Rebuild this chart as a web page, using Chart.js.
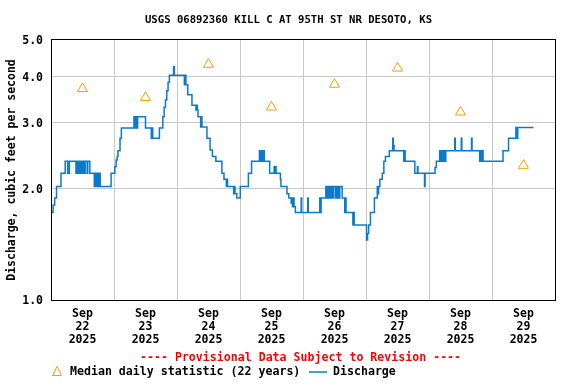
<!DOCTYPE html>
<html>
<head>
<meta charset="utf-8">
<script src="https://cdn.jsdelivr.net/npm/chart.js@4"></script>
<style>
  html, body { margin: 0; padding: 0; background: #fff; }
  canvas { display: block; }
</style>
</head>
<body>
<canvas id="chart" width="576" height="384"></canvas>
<script>
// hours since Sep 22 00:00 where the 15-min discharge steps to a new value
const flowHours = [
  0.2, 0.8, 1.4, 2.1, 3.8, 5.4, 6.4, 7.0, 9.5, 9.75, 10.0, 10.25, 10.5, 10.75, 11.25, 11.5,
  12.0, 12.25, 12.75, 13.0, 13.75, 14.0, 14.8, 16.5, 16.75, 17.25, 17.5, 18.0, 18.25, 18.75,
  22.9, 24.3, 24.8, 25.2, 25.5, 26.3, 26.8, 31.6, 32.0, 32.25, 32.75, 33.0, 36.0, 38.2, 38.5,
  38.75, 41.3, 42.6, 43.1, 43.6, 44.1, 44.6, 45.1, 46.7, 47.0, 50.8, 51.0, 51.4, 52.1, 53.7,
  55.2, 55.5, 55.75, 56.0, 57.0, 57.25, 57.5, 59.4, 60.6, 61.5, 62.8, 65.1, 65.9, 66.8, 67.0,
  67.25, 69.6, 69.9, 70.1, 70.8, 72.1, 75.2, 76.4, 79.4, 79.7, 80.2, 80.5, 81.0, 81.25, 83.3,
  85.0, 85.25, 85.5, 85.75, 87.4, 87.6, 89.9, 90.6, 91.5, 91.75, 92.0, 92.25, 92.6, 93.1,
  95.3, 95.5, 97.8, 98.0, 102.4, 102.6, 102.9, 104.7, 105.0, 105.25, 105.75, 106.0, 106.5,
  106.75, 107.25, 107.5, 108.25, 108.5, 109.0, 109.25, 109.75, 110.0, 110.9, 111.9, 112.1,
  112.4, 115.0, 115.2, 115.5, 120.2, 120.6, 121.0, 121.7, 123.2, 124.3, 124.5, 124.8, 125.3,
  126.2, 126.8, 127.4, 128.9, 130.2, 130.4, 130.7, 134.4, 134.6, 134.9, 138.6, 139.6, 139.8,
  142.3, 142.5, 146.3, 146.8, 148.1, 148.5, 148.8, 149.2, 149.6, 150.0, 150.4, 153.8, 154.0,
  156.3, 156.5, 160.2, 160.4, 163.3, 163.6, 163.9, 164.2, 164.6, 172.2, 174.3, 177.1, 177.4,
  177.8, 183.8
];
const flowCfs = [
  1.72, 1.80, 1.88, 2.02, 2.19, 2.36, 2.19, 2.36, 2.19, 2.36, 2.19, 2.36, 2.19, 2.36, 2.19, 2.36,
  2.19, 2.36, 2.19, 2.36, 2.19, 2.36, 2.19, 2.02, 2.19, 2.02, 2.19, 2.02, 2.19, 2.02,
  2.19, 2.28, 2.38, 2.43, 2.52, 2.72, 2.90, 3.11, 2.90, 3.11, 2.90, 3.11, 2.90, 2.72, 2.90,
  2.72, 2.90, 3.11, 3.30, 3.45, 3.65, 3.85, 4.02, 4.24, 4.02, 3.79, 4.02, 3.79, 3.56, 3.34,
  3.24, 3.34, 3.24, 3.11, 2.92, 3.11, 2.92, 2.72, 2.53, 2.43, 2.36, 2.19, 2.11, 2.02, 2.11,
  2.02, 1.93, 2.02, 1.93, 1.88, 2.02, 2.19, 2.36, 2.52, 2.36, 2.52, 2.36, 2.52, 2.36, 2.19,
  2.28, 2.19, 2.28, 2.19, 2.11, 2.02, 1.93, 1.88, 1.82, 1.88, 1.78, 1.88, 1.78, 1.72,
  1.88, 1.72, 1.88, 1.72, 1.88, 1.72, 1.88, 2.02, 1.88, 2.02, 1.88, 2.02, 1.88,
  2.02, 1.88, 2.02, 1.88, 2.02, 1.88, 2.02, 1.88, 2.02, 1.88, 1.72, 1.88,
  1.72, 1.59, 1.72, 1.59, 1.45, 1.51, 1.59, 1.72, 1.88, 2.02, 1.93, 2.02, 2.11,
  2.19, 2.36, 2.43, 2.52, 2.72, 2.60, 2.52, 2.36, 2.52, 2.36, 2.19, 2.28, 2.19,
  2.02, 2.19, 2.27, 2.36, 2.52, 2.36, 2.52, 2.36, 2.52, 2.36, 2.52, 2.72, 2.52,
  2.72, 2.52, 2.72, 2.52, 2.36, 2.52, 2.36, 2.52, 2.36, 2.52, 2.72, 2.91, 2.72,
  2.91, 2.91
];

// median daily statistic, plotted at noon of each day
const medianHours = [12, 36, 60, 84, 108, 132, 156, 180];
const medianCfs = [3.7, 3.5, 4.3, 3.3, 3.8, 4.2, 3.2, 2.3];

const dayLabels = ["22", "23", "24", "25", "26", "27", "28", "29"];
const yTicks = [1, 2, 3, 4, 5];

const MONO = "'DejaVu Sans Mono', 'Liberation Mono', monospace";
const GRID = "#c8c8c8";

const discharge = flowHours.map((h, i) => ({ x: h, y: flowCfs[i] }));
const medians = medianHours.map((h, i) => ({ x: h, y: medianCfs[i] }));

// title, frame around the plot, provisional note and legend below the axis
const extras = {
  id: "extras",
  afterDraw(chart) {
    const { ctx, chartArea: a } = chart;
    ctx.save();
    ctx.strokeStyle = "#000";
    ctx.lineWidth = 1;
    ctx.strokeRect(Math.round(a.left) + 0.5, Math.round(a.top) - 0.5,
      Math.round(a.right - a.left), Math.round(a.bottom - a.top) + 1);

    ctx.textBaseline = "middle";
    ctx.textAlign = "center";
    ctx.fillStyle = "#000";
    ctx.font = "bold 10.6px " + MONO;
    ctx.fillText("USGS 06892360 KILL C AT 95TH ST NR DESOTO, KS", 288.5, 20);

    ctx.font = "bold 11.6px " + MONO;
    ctx.textAlign = "left";
    ctx.fillStyle = "#ff0000";
    ctx.fillText("---- Provisional Data Subject to Revision ----", 140, 358);

    // median marker
    ctx.strokeStyle = "#f5a000";
    ctx.lineWidth = 1;
    ctx.beginPath();
    ctx.moveTo(57, 366.5);
    ctx.lineTo(61.5, 375.5);
    ctx.lineTo(52.5, 375.5);
    ctx.closePath();
    ctx.stroke();
    ctx.fillStyle = "#000";
    ctx.fillText("Median daily statistic (22 years)", 70, 372);

    // discharge line
    ctx.strokeStyle = "#0a7bcc";
    ctx.lineWidth = 1.5;
    ctx.beginPath();
    ctx.moveTo(309, 372);
    ctx.lineTo(327, 372);
    ctx.stroke();
    ctx.fillText("Discharge", 333, 372);
    ctx.restore();
  }
};

new Chart(document.getElementById("chart"), {
  data: {
    datasets: [
      {
        type: "line",
        label: "Discharge",
        data: discharge,
        borderColor: "#0a7bcc",
        borderWidth: 1.5,
        stepped: "before",
        pointRadius: 0,
        fill: false,
        order: 2
      },
      {
        type: "scatter",
        label: "Median daily statistic (22 years)",
        data: medians,
        pointStyle: "triangle",
        pointRadius: 5.8,
        borderColor: "#f5a000",
        borderWidth: 1,
        backgroundColor: "rgba(0,0,0,0)",
        order: 1
      }
    ]
  },
  options: {
    responsive: false,
    animation: false,
    devicePixelRatio: 1,
    layout: { padding: { left: 0, right: 21, top: 40, bottom: 34 } },
    plugins: {
      legend: { display: false },
      tooltip: { enabled: false },
      title: { display: false }
    },
    scales: {
      x: {
        type: "linear",
        min: 0,
        max: 192,
        afterBuildTicks(scale) {
          const t = [];
          for (let v = 0; v <= 192; v += 12) t.push({ value: v });
          scale.ticks = t;
        },
        afterFit(scale) { scale.height = 50; },
        grid: {
          color: (c) => (c.tick && c.tick.value % 24 === 0 ? GRID : "rgba(0,0,0,0)"),
          drawTicks: false
        },
        border: { color: "#000", width: 1 },
        ticks: {
          autoSkip: false,
          maxRotation: 0,
          padding: 7.5,
          color: "#000",
          font: { family: MONO, size: 11.5, weight: "bold", lineHeight: "13px" },
          callback: (v) => (v % 24 === 12 ? ["Sep", dayLabels[(v - 12) / 24], "2025"] : "")
        }
      },
      y: {
        type: "logarithmic",
        min: 1,
        max: 5,
        afterBuildTicks(scale) {
          scale.ticks = yTicks.map((v) => ({ value: v }));
        },
        afterFit(scale) { scale.width = 51; },
        grid: {
          color: (c) => (c.tick && c.tick.value > 1 && c.tick.value < 5 ? GRID : "rgba(0,0,0,0)"),
          drawTicks: false
        },
        border: { color: "#000", width: 1 },
        ticks: {
          padding: 8,
          labelOffset: 1.5,
          color: "#000",
          font: { family: MONO, size: 11.5, weight: "bold" },
          callback: (v) => Number(v).toFixed(1)
        },
        title: {
          display: true,
          text: "Discharge, cubic feet per second",
          color: "#000",
          font: { family: MONO, size: 11.5, weight: "bold", lineHeight: 1.2 },
          padding: { top: 5, bottom: 0 }
        }
      }
    }
  },
  plugins: [extras]
});
</script>
</body>
</html>
